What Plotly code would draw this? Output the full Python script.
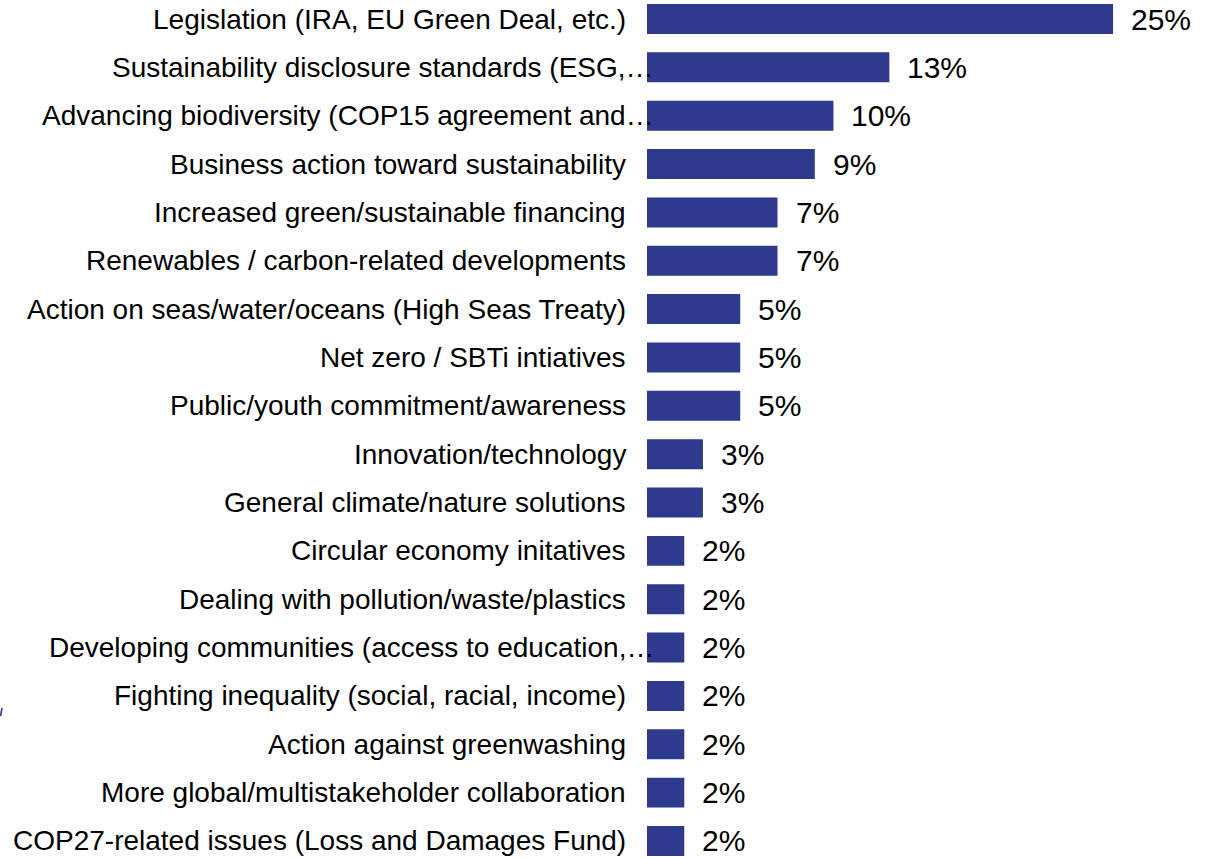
import plotly.graph_objects as go

categories = [
    "Legislation (IRA, EU Green Deal, etc.)",
    "Sustainability disclosure standards (ESG,…",
    "Advancing biodiversity (COP15 agreement and…",
    "Business action toward sustainability",
    "Increased green/sustainable financing",
    "Renewables / carbon-related developments",
    "Action on seas/water/oceans (High Seas Treaty)",
    "Net zero / SBTi intiatives",
    "Public/youth commitment/awareness",
    "Innovation/technology",
    "General climate/nature solutions",
    "Circular economy initatives",
    "Dealing with pollution/waste/plastics",
    "Developing communities (access to education,…",
    "Fighting inequality (social, racial, income)",
    "Action against greenwashing",
    "More global/multistakeholder collaboration",
    "COP27-related issues (Loss and Damages Fund)",
]
values = [25, 13, 10, 9, 7, 7, 5, 5, 5, 3, 3, 2, 2, 2, 2, 2, 2, 2]
value_labels = [f"{v}%" for v in values]
truncated = [c.endswith("…") for c in categories]

BAR_COLOR = "#2E3A8E"
FONT = "Arial, Liberation Sans, sans-serif"

fig = go.Figure()
fig.add_trace(go.Bar(
    x=values,
    y=list(range(len(categories))),
    orientation="h",
    marker=dict(color=BAR_COLOR, line=dict(width=0)),
    width=0.62,
    hoverinfo="skip",
))

annotations = []
for i, (cat, vl, v, tr) in enumerate(zip(categories, value_labels, values, truncated)):
    annotations.append(dict(
        x=0, y=i, xref="x", yref="y", text=cat, showarrow=False,
        xanchor="right", yanchor="middle",
        xshift=(9 if tr else -19),
        font=dict(family=FONT, size=28, color="#000000"),
    ))
    annotations.append(dict(
        x=v, y=i, xref="x", yref="y", text=vl, showarrow=False,
        xanchor="left", yanchor="middle", xshift=16,
        font=dict(family=FONT, size=30, color="#000000"),
    ))

fig.update_layout(
    width=1211, height=858,
    margin=dict(l=647, r=42, t=0, b=0),
    paper_bgcolor="white", plot_bgcolor="white",
    showlegend=False,
    xaxis=dict(range=[0, 28], visible=False, fixedrange=True),
    yaxis=dict(range=[17.352, -0.393], visible=False, fixedrange=True),
    annotations=annotations,
    shapes=[dict(type="line", xref="paper", yref="paper",
                 x0=-647/522 + 2/522, y0=1 - 708/858,
                 x1=-647/522 + 0.5/522, y1=1 - 716/858,
                 line=dict(color=BAR_COLOR, width=1.5))],
)

fig.write_html("out.html")
